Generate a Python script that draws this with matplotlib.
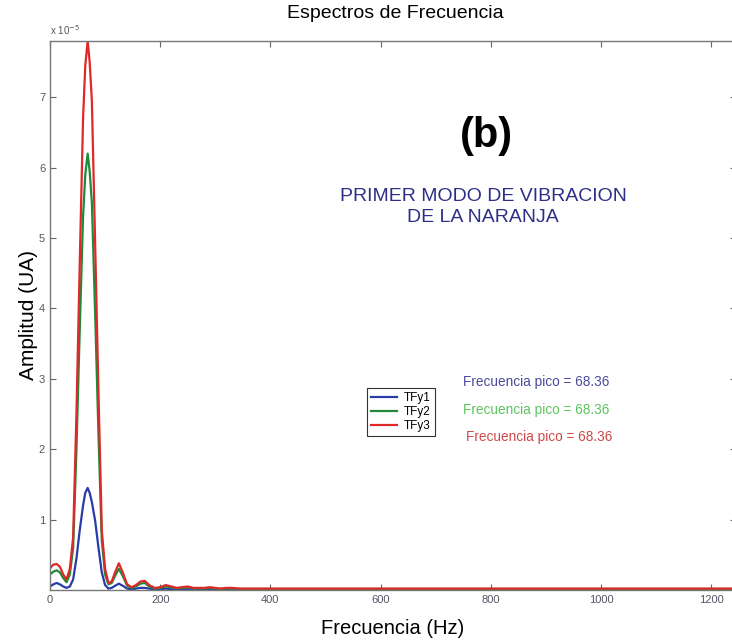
import numpy as np
import matplotlib.pyplot as plt
from matplotlib import font_manager

# frequency knots (Hz) and spectra amplitudes (x 1e-5 UA)
freq = [0, 6, 12, 18, 24, 30, 36, 42, 48, 54, 60, 64, 68.36, 72, 76, 82, 88, 94,
        100, 106, 112, 118, 125, 132, 140, 148, 156, 164, 172, 180, 190, 200,
        210, 220, 230, 240, 250, 260, 270, 280, 290, 300, 310, 320, 330, 345, 1250]

tfy1 = [0.05, 0.08, 0.10, 0.08, 0.05, 0.03, 0.05, 0.15, 0.45, 0.85, 1.20, 1.38, 1.45,
        1.38, 1.25, 0.98, 0.60, 0.25, 0.07, 0.02, 0.03, 0.06, 0.09, 0.06, 0.02, 0.01,
        0.02, 0.03, 0.03, 0.02, 0.01, 0.01, 0.02, 0.01, 0.01, 0.01, 0.01, 0.01, 0.01,
        0.01, 0.01, 0.01, 0.01, 0.01, 0.01, 0.01, 0.01]

tfy2 = [0.22, 0.26, 0.28, 0.25, 0.17, 0.11, 0.22, 0.60, 2.00, 3.70, 5.30, 5.90, 6.20,
        5.95, 5.50, 3.90, 2.20, 0.70, 0.22, 0.08, 0.10, 0.20, 0.30, 0.20, 0.06, 0.03,
        0.05, 0.09, 0.10, 0.05, 0.02, 0.03, 0.05, 0.04, 0.02, 0.03, 0.04, 0.02, 0.02,
        0.02, 0.03, 0.02, 0.015, 0.02, 0.02, 0.015, 0.015]

tfy3 = [0.31, 0.36, 0.37, 0.33, 0.22, 0.15, 0.30, 0.75, 2.50, 4.65, 6.70, 7.45, 7.80,
        7.50, 6.95, 4.90, 2.80, 0.85, 0.30, 0.10, 0.12, 0.25, 0.38, 0.25, 0.08, 0.04,
        0.07, 0.12, 0.13, 0.07, 0.03, 0.04, 0.07, 0.05, 0.03, 0.04, 0.05, 0.03, 0.03,
        0.03, 0.04, 0.03, 0.02, 0.03, 0.03, 0.02, 0.02]

peak = 68.36
xticks = [0, 200, 400, 600, 800, 1000, 1200]
yticks = [1, 2, 3, 4, 5, 6, 7]

plt.rcParams['font.family'] = ['Liberation Sans', 'DejaVu Sans']

# narrow font for the small labels, if there is one
try:
    font_manager.findfont('Liberation Sans Narrow', fallback_to_default=False)
    narrow, nsize, lsize = ['Liberation Sans Narrow', 'Liberation Sans'], 11, 9.5
except Exception:
    narrow, nsize, lsize = ['Liberation Sans'], 9.8, 8.5

fig = plt.figure(figsize=(7.32, 6.41), dpi=100)
ax = fig.add_axes([50/732, 1 - 590/641, 686/732, 549/641])

scale = 1e-5
ax.plot(freq, np.array(tfy1)*scale, color='#2a3aa8', lw=1.6, label='TFy1')
ax.plot(freq, np.array(tfy2)*scale, color='#1f8a3a', lw=1.6, label='TFy2')
ax.plot(freq, np.array(tfy3)*scale, color='#e02828', lw=1.6, label='TFy3')

ax.set_xlim(0, 1245)
ax.set_ylim(0, 7.8*scale)
ax.set_xticks(xticks)
ax.set_xticklabels([str(t) for t in xticks])
ax.set_yticks([t*scale for t in yticks])
ax.set_yticklabels([str(t) for t in yticks])
ax.tick_params(direction='in', top=True, right=True, length=4, width=0.8,
               colors='#666666', labelsize=8, labelcolor='#555566')
for s in ax.spines.values():
    s.set_color('#777777')
    s.set_linewidth(1.0)

ax.set_xlabel('Frecuencia (Hz)', fontsize=14.5, labelpad=10)
ax.set_ylabel('Amplitud (UA)', fontsize=15, labelpad=1)
fig.text(395/732, 1 - 14/641, 'Espectros de Frecuencia', ha='center', va='center', fontsize=14)
fig.text(50/732, 1 - 30/641, 'x 10$^{-5}$', ha='left', va='center', fontsize=7, color='#555555')

ax.text(486/732, 1 - 136/641, '(b)', transform=fig.transFigure, ha='center', va='center',
        fontsize=30, fontweight='heavy')
ax.text(483/732, 1 - 207/641, 'PRIMER MODO DE VIBRACION\nDE LA NARANJA', transform=fig.transFigure,
        ha='center', va='center', fontsize=14, color='#2e2e86', linespacing=1.25)

lbl = 'Frecuencia pico = %.2f' % peak
ax.text(463/732, 1 - 382/641, lbl, transform=fig.transFigure, fontsize=nsize, color='#4a4a9a',
        va='center', family=narrow)
ax.text(463/732, 1 - 410/641, lbl, transform=fig.transFigure, fontsize=nsize, color='#5ec45e',
        va='center', family=narrow)
ax.text(466/732, 1 - 437/641, lbl, transform=fig.transFigure, fontsize=nsize, color='#d04848',
        va='center', family=narrow)

leg = ax.legend(loc='upper left', bbox_to_anchor=(367/732, 1 - 388/641), bbox_transform=fig.transFigure,
                prop={'family': narrow, 'size': lsize}, frameon=True, fancybox=False,
                handlelength=2.2, handletextpad=0.6, borderpad=0.35, labelspacing=0.15,
                borderaxespad=0)
leg.get_frame().set_edgecolor('black')
leg.get_frame().set_linewidth(0.8)

fig.savefig('out.png', dpi=100)
